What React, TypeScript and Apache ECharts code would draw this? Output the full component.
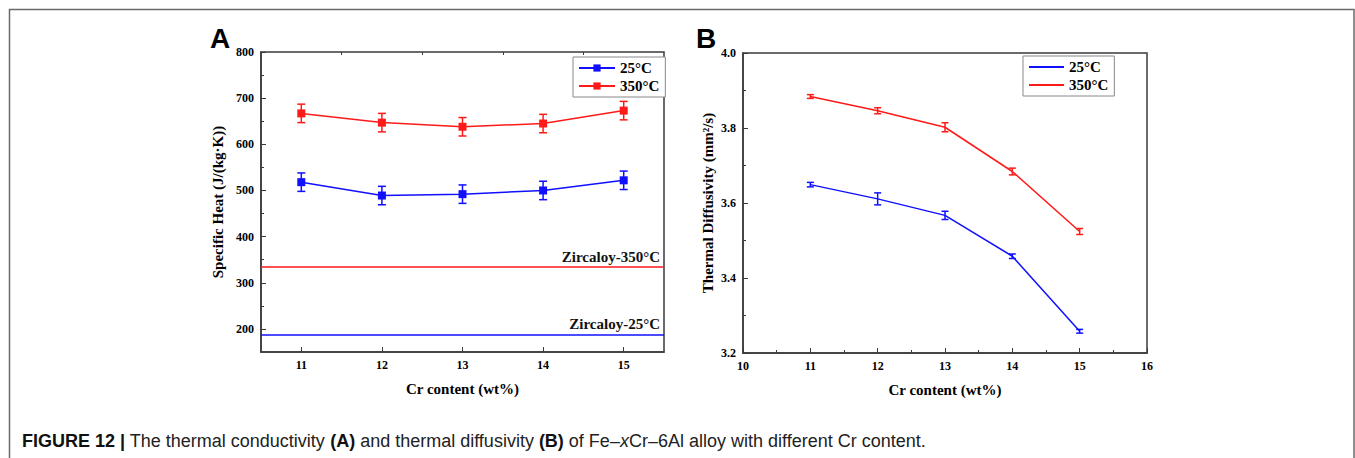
import React, { useEffect, useRef } from "react";
import * as echarts from "echarts";

const crContent = [11, 12, 13, 14, 15];

const heat25 = [518, 489, 492, 500, 522];
const heat25Err = [20, 20, 20, 20, 20];
const heat350 = [667, 647, 638, 645, 673];
const heat350Err = [20, 20, 20, 20, 20];

const zircaloyNames = ["Zircaloy-350°C", "Zircaloy-25°C"];
const zircaloyValues = [334, 187];

const diff25 = [3.649, 3.611, 3.567, 3.458, 3.258];
const diff25Err = [0.006, 0.016, 0.011, 0.006, 0.005];
const diff350 = [3.884, 3.846, 3.802, 3.684, 3.524];
const diff350Err = [0.005, 0.008, 0.012, 0.009, 0.008];

const aYLabels = [200, 300, 400, 500, 600, 700, 800];
const aYMinor = [250, 350, 450, 550, 650, 750];
const aXLabels = [11, 12, 13, 14, 15];
const aXMinor = [11.5, 12.5, 13.5, 14.5];

const legendNames = ["25°C", "350°C"];
const captionText =
  "{b|FIGURE 12 |} The thermal conductivity {b|(A)} and thermal diffusivity {b|(B)} of Fe–{i|x}Cr–6Al alloy with different Cr content.";

const SERIF = "'Liberation Serif', 'Times New Roman', serif";
const SANS = "'Liberation Sans', Arial, Helvetica, sans-serif";
const BLUE = "#1010ff";
const RED = "#ff1a1a";
const AXIS = "#3a3a3a";

const pairs = (xs: number[], ys: number[]) => xs.map((x, i) => [x, ys[i]]);
const bars = (xs: number[], ys: number[], es: number[]) =>
  xs.map((x, i) => [x, ys[i] - es[i], ys[i] + es[i]]);

function errorBarSeries(name: string, data: number[][], color: string, xi: number, yi: number, hw: number) {
  return {
    type: "custom",
    name,
    xAxisIndex: xi,
    yAxisIndex: yi,
    silent: true,
    z: 3,
    encode: { x: 0, y: [1, 2] },
    data,
    renderItem: (params: any, api: any) => {
      const x = api.value(0);
      const lo = api.coord([x, api.value(1)]);
      const hi = api.coord([x, api.value(2)]);
      const st = { stroke: color, lineWidth: 1.5 };
      return {
        type: "group",
        children: [
          { type: "line", shape: { x1: lo[0], y1: lo[1], x2: hi[0], y2: hi[1] }, style: st },
          { type: "line", shape: { x1: lo[0] - hw, y1: lo[1], x2: lo[0] + hw, y2: lo[1] }, style: st },
          { type: "line", shape: { x1: hi[0] - hw, y1: hi[1], x2: hi[0] + hw, y2: hi[1] }, style: st },
        ],
      };
    },
  };
}

const tickLabel = { color: "#000", fontFamily: SERIF, fontWeight: "bold", fontSize: 12 };
const nameStyle = { color: "#000", fontFamily: SERIF, fontWeight: "bold", fontSize: 15 };

export default function App() {
  const ref = useRef<HTMLDivElement>(null);
  useEffect(() => {
    if (!ref.current) return;
    const chart = echarts.init(ref.current, null, { renderer: "svg" });
    const option: any = {
      animation: false,
      backgroundColor: "#fff",
      grid: [
        { left: 261, top: 52, width: 403, height: 300, show: true, borderColor: AXIS, borderWidth: 1.5 },
        { left: 743, top: 53, width: 404, height: 300, show: true, borderColor: AXIS, borderWidth: 1.5 },
      ],
      xAxis: [
        {
          type: "value", gridIndex: 0, min: 10.5, max: 15.5,
          name: "Cr content (wt%)", nameLocation: "middle", nameGap: 29, nameTextStyle: nameStyle,
          axisLine: { lineStyle: { color: AXIS, width: 1.5 } },
          axisTick: { inside: true, length: 5, customValues: aXLabels, lineStyle: { color: AXIS } },
          axisLabel: { customValues: aXLabels, margin: 7, ...tickLabel },
          splitLine: { show: false },
        },
        {
          type: "value", gridIndex: 0, min: 10.5, max: 15.5,
          axisLine: { show: false },
          axisTick: { inside: true, length: 3, customValues: aXMinor, lineStyle: { color: AXIS } },
          axisLabel: { show: false },
          splitLine: { show: false },
        },
        {
          type: "value", gridIndex: 1, min: 10, max: 16, interval: 1,
          name: "Cr content (wt%)", nameLocation: "middle", nameGap: 29, nameTextStyle: nameStyle,
          axisLine: { lineStyle: { color: AXIS, width: 1.5 } },
          axisTick: { inside: true, length: 5, lineStyle: { color: AXIS } },
          minorTick: { show: true, splitNumber: 2, length: 3, lineStyle: { color: AXIS } },
          axisLabel: { margin: 7, ...tickLabel },
          splitLine: { show: false },
        },
      ],
      yAxis: [
        {
          type: "value", gridIndex: 0, min: 150, max: 800,
          name: "Specific Heat (J/(kg·K))", nameLocation: "middle", nameGap: 36, nameTextStyle: nameStyle,
          axisLine: { lineStyle: { color: AXIS, width: 1.5 } },
          axisTick: { inside: true, length: 5, customValues: aYLabels, lineStyle: { color: AXIS } },
          axisLabel: { customValues: aYLabels, margin: 7, ...tickLabel },
          splitLine: { show: false },
        },
        {
          type: "value", gridIndex: 0, min: 150, max: 800, position: "left", offset: 0,
          axisLine: { show: false },
          axisTick: { inside: true, length: 3, customValues: aYMinor, lineStyle: { color: AXIS } },
          axisLabel: { show: false },
          splitLine: { show: false },
        },
        {
          type: "value", gridIndex: 1, min: 3.2, max: 4.0, interval: 0.2,
          name: "Thermal Diffusivity (mm²/s)", nameLocation: "middle", nameGap: 28, nameTextStyle: nameStyle,
          axisLine: { lineStyle: { color: AXIS, width: 1.5 } },
          axisTick: { inside: true, length: 5, lineStyle: { color: AXIS } },
          minorTick: { show: true, splitNumber: 2, length: 3, lineStyle: { color: AXIS } },
          axisLabel: { margin: 7, formatter: (v: number) => v.toFixed(1), ...tickLabel },
          splitLine: { show: false },
        },
      ],
      legend: [
        {
          data: legendNames, orient: "vertical", left: 573, top: 57,
          itemWidth: 36, itemHeight: 9, itemGap: 2, padding: [3, 6, 3, 5],
          borderColor: "#888", borderWidth: 1, backgroundColor: "#fff",
          textStyle: { ...nameStyle, fontSize: 15, lineHeight: 16 },
          selectedMode: false,
        },
        {
          data: ["B25", "B350"], orient: "vertical", left: 1023, top: 56,
          itemWidth: 35, itemHeight: 9, itemGap: 2, padding: [3, 6, 3, 5],
          borderColor: "#888", borderWidth: 1, backgroundColor: "#fff",
          itemStyle: { opacity: 0 },
          formatter: (n: string) => (n === "B25" ? legendNames[0] : legendNames[1]),
          textStyle: { ...nameStyle, fontSize: 15, lineHeight: 16 },
          selectedMode: false,
        },
      ],
      series: [
        {
          type: "line", name: legendNames[0], xAxisIndex: 0, yAxisIndex: 0,
          data: pairs(crContent, heat25), symbol: "rect", symbolSize: 8,
          itemStyle: { color: BLUE }, lineStyle: { color: BLUE, width: 1.5 }, z: 4,
          markLine: {
            silent: true, symbol: ["none", "none"],
            lineStyle: { color: BLUE, width: 1.5, type: "solid" },
            label: { position: "insideEndTop", distance: [4, 3], formatter: zircaloyNames[1], ...nameStyle, color: "#111" },
            data: [{ yAxis: zircaloyValues[1] }],
          },
        },
        {
          type: "line", name: legendNames[1], xAxisIndex: 0, yAxisIndex: 0,
          data: pairs(crContent, heat350), symbol: "rect", symbolSize: 8,
          itemStyle: { color: RED }, lineStyle: { color: RED, width: 1.5 }, z: 4,
          markLine: {
            silent: true, symbol: ["none", "none"],
            lineStyle: { color: RED, width: 1.5, type: "solid" },
            label: { position: "insideEndTop", distance: [4, 3], formatter: zircaloyNames[0], ...nameStyle, color: "#111" },
            data: [{ yAxis: zircaloyValues[0] }],
          },
        },
        errorBarSeries("e25", bars(crContent, heat25, heat25Err), BLUE, 0, 0, 4),
        errorBarSeries("e350", bars(crContent, heat350, heat350Err), RED, 0, 0, 4),
        {
          type: "line", name: "B25", xAxisIndex: 2, yAxisIndex: 2,
          data: pairs(crContent, diff25), symbol: "none",
          itemStyle: { color: BLUE }, lineStyle: { color: BLUE, width: 1.5 },
        },
        {
          type: "line", name: "B350", xAxisIndex: 2, yAxisIndex: 2,
          data: pairs(crContent, diff350), symbol: "none",
          itemStyle: { color: RED }, lineStyle: { color: RED, width: 1.5 },
        },
        errorBarSeries("eb25", bars(crContent, diff25, diff25Err), BLUE, 2, 2, 3.5),
        errorBarSeries("eb350", bars(crContent, diff350, diff350Err), RED, 2, 2, 3.5),
      ],
      graphic: [
        {
          type: "rect", silent: true, z: 0,
          shape: { x: 9.5, y: 9.5, width: 1344.5, height: 500 },
          style: { fill: "none", stroke: "#6a6a6a", lineWidth: 1.5 },
        },
        {
          type: "text", left: 210, top: 24,
          style: { text: "A", font: `bold 28px ${SANS}`, fill: "#000" },
        },
        {
          type: "text", left: 696, top: 24,
          style: { text: "B", font: `bold 28px ${SANS}`, fill: "#000" },
        },
        {
          type: "text", left: 22, top: 432,
          style: {
            text: captionText,
            font: `18px ${SANS}`,
            fill: "#222",
            rich: {
              b: { font: `bold 18px ${SANS}`, fill: "#111" },
              i: { font: `italic 18px ${SANS}`, fill: "#222" },
            },
          },
        },
      ],
    };
    chart.setOption(option);
    return () => chart.dispose();
  }, []);
  return (
    <div
      ref={ref}
      style={{ position: "absolute", left: 0, top: 0, width: 1355, height: 458 }}
    />
  );
}
